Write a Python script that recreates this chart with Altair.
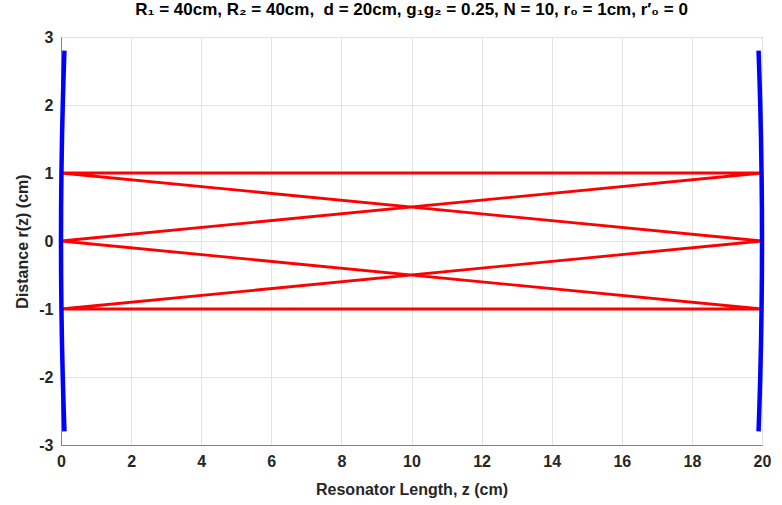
import altair as alt
import pandas as pd

# Ray path (z, r) for N = 10 round trips
ray_z = [0, 20, 0, 20, 0, 20, 0, 20, 0, 20, 0, 20, 0, 20, 0, 20, 0, 20, 0, 20, 0]
ray_r = [1, 1, 0, -1, -1, 0, 1, 1, 0, -1, -1, 0, 1, 1, 0, -1, -1, 0, 1, 1, 0]

# Mirror profiles
mirror_r = [-2.8, -2.4, -2.0, -1.5, -1.0, -0.5, 0.0, 0.5, 1.0, 1.5, 2.0, 2.4, 2.8]
left_z = [0.098, 0.072, 0.05, 0.028, 0.0125, 0.003, 0.0, 0.003, 0.0125, 0.028, 0.05, 0.072, 0.098]
right_z = [19.902, 19.928, 19.95, 19.972, 19.9875, 19.997, 20.0, 19.997, 19.9875, 19.972, 19.95, 19.928, 19.902]

x_ticks = [0, 2, 4, 6, 8, 10, 12, 14, 16, 18, 20]
y_ticks = [-3, -2, -1, 0, 1, 2, 3]

title_text = "R\u2081 = 40cm, R\u2082 = 40cm,\u00a0 d = 20cm, g\u2081g\u2082 = 0.25, N = 10, r\u2080 = 1cm, r\u2032\u2080 = 0"

ray_df = pd.DataFrame({"z": ray_z, "r": ray_r, "i": list(range(len(ray_z)))})
mirror_df = pd.DataFrame({
    "z": left_z + right_z,
    "r": mirror_r + mirror_r,
    "m": ["left"] * len(mirror_r) + ["right"] * len(mirror_r),
    "i": list(range(len(mirror_r))) * 2,
})

FONT = "Liberation Sans"
LABEL_EXPR = "'' + datum.value"

xscale = alt.Scale(domain=[0, 20], nice=False, zero=False)
yscale = alt.Scale(domain=[-3, 3], nice=False, zero=False)

xaxis = alt.Axis(values=x_ticks, title="Resonator Length, z (cm)", grid=True,
                 gridColor="#e3e3e3", domainColor="#808080", ticks=False,
                 labelExpr=LABEL_EXPR,
                 labelFont=FONT, labelFontSize=16, labelFontWeight="bold", labelColor="#262626",
                 labelPadding=8, titleFont=FONT, titleFontSize=16, titleFontWeight="bold",
                 titleColor="#262626", titlePadding=12, labelFlush=False)
yaxis = alt.Axis(values=y_ticks, title="Distance r(z) (cm)", grid=True,
                 gridColor="#e3e3e3", domainColor="#808080", ticks=False,
                 labelExpr=LABEL_EXPR,
                 labelFont=FONT, labelFontSize=16, labelFontWeight="bold", labelColor="#262626",
                 labelPadding=8, titleFont=FONT, titleFontSize=16, titleFontWeight="bold",
                 titleColor="#262626", titlePadding=8, labelFlush=False)

ray = alt.Chart(ray_df).mark_line(color="#ff0000", strokeWidth=2.8, clip=True).encode(
    x=alt.X("z:Q", scale=xscale, axis=xaxis),
    y=alt.Y("r:Q", scale=yscale, axis=yaxis),
    order="i:Q",
)

mirrors = alt.Chart(mirror_df).mark_line(color="#0000ff", strokeWidth=4.5).encode(
    x=alt.X("z:Q", scale=xscale),
    y=alt.Y("r:Q", scale=yscale),
    detail="m:N",
    order="i:Q",
)

chart = alt.layer(ray, mirrors).properties(
    width=701, height=408,
    title=alt.TitleParams(title_text, font=FONT, fontSize=17, fontWeight="bold",
                          color="#000000", anchor="middle", offset=10),
    autosize=alt.AutoSizeParams(type="none"),
    padding={"left": 61, "top": 37, "right": 20, "bottom": 60},
    background="white",
).configure_view(stroke="#808080", strokeWidth=1)

chart.save("out.html", embed_options={"renderer": "svg", "actions": False})
